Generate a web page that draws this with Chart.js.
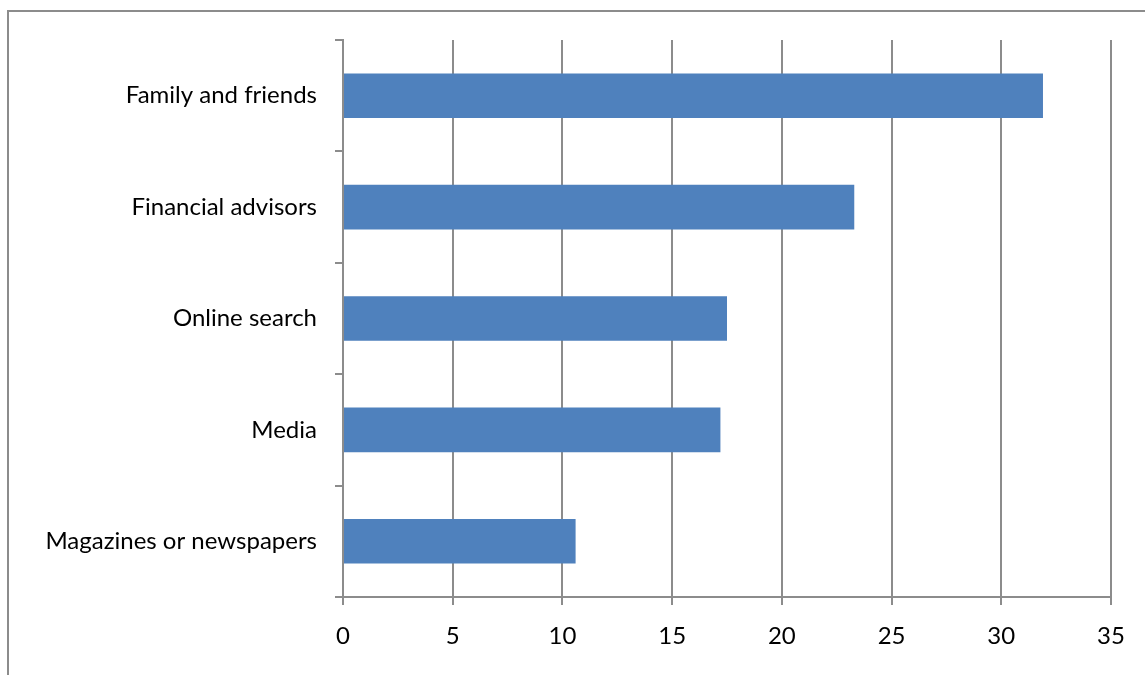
<!DOCTYPE html>
<html>
<head>
<meta charset="utf-8">
<script src="https://cdn.jsdelivr.net/npm/chart.js@4/dist/chart.umd.min.js"></script>
<style>
  html, body { margin: 0; padding: 0; background: #fff; overflow: hidden; }
  #wrap { position: relative; width: 1145px; height: 675px; }
  #frame { position: absolute; left: 7px; top: 10px; width: 1200px; height: 700px; border: 2px solid #8c8c8c; box-sizing: border-box; }
  canvas { position: absolute; left: 0; top: 0; }
</style>
</head>
<body>
<div id="wrap">
  <div id="frame"></div>
  <canvas id="myChart" width="1145" height="675"></canvas>
</div>
<script>
"use strict";

// sources of advice
const categories = ['Family and friends', 'Financial advisors', 'Online search', 'Media', 'Magazines or newspapers'];
const values = [31.9, 23.3, 17.5, 17.2, 10.6];
const xTicks = [0, 5, 10, 15, 20, 25, 30, 35];

const gridColor = '#8c8c8c';

var ctx = document.getElementById("myChart").getContext("2d");
window.myBar = new Chart(ctx, {
  type: 'bar',
  data: {
    labels: categories,
    datasets: [{
      data: values,
      backgroundColor: "#4f81bd",
      borderColor: "#4f81bd",
      borderWidth: 0,
      barPercentage: 0.4,
      categoryPercentage: 1,
    }],
  },
  options: {
    indexAxis: 'y',
    responsive: false,
    animation: false,
    layout: {
      padding: { top: 40, right: 34, left: 0, bottom: 0 }
    },
    plugins: {
      legend: { display: false },
      tooltip: { enabled: false }
    },
    scales: {
      x: {
        min: 0,
        max: 35,
        afterBuildTicks: function(scale) {
          scale.ticks = xTicks.map(function(v) { return { value: v }; });
        },
        afterFit: function(scale) {
          scale.height = 78;
        },
        border: { color: gridColor, width: 2 },
        grid: {
          color: gridColor,
          lineWidth: 2,
          tickLength: 8,
        },
        ticks: {
          color: '#000',
          font: { family: 'Lato', size: 24 },
          padding: 17,
          maxRotation: 0,
        }
      },
      y: {
        afterFit: function(scale) {
          scale.width = 343;
        },
        border: { color: gridColor, width: 2 },
        grid: {
          offset: true,
          drawOnChartArea: false,
          color: gridColor,
          lineWidth: 2,
          tickLength: 8,
        },
        ticks: {
          color: '#000',
          font: { family: 'Lato', size: 24 },
          padding: 18,
        }
      }
    }
  }
});
</script>
</body>
</html>
